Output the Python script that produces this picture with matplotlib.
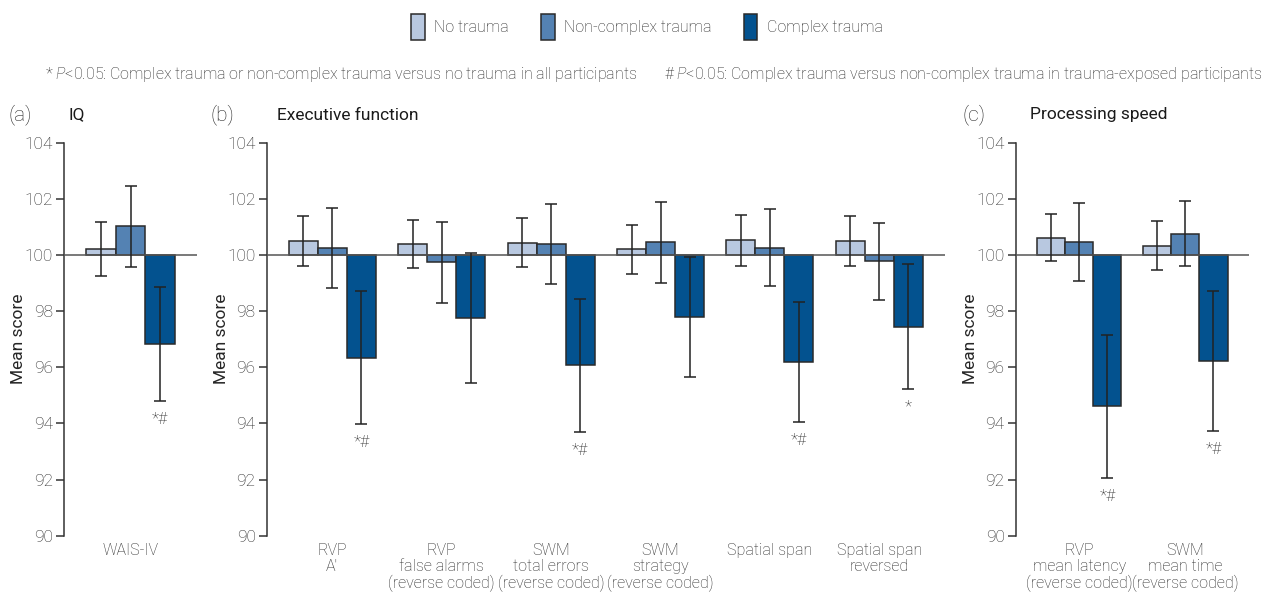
import matplotlib
matplotlib.use("Agg")
import matplotlib.pyplot as plt
from matplotlib.patches import Patch
import numpy as np

plt.rcParams['font.family'] = ['Roboto', 'DejaVu Sans']
plt.rcParams['font.weight'] = 'light'
plt.rcParams['mathtext.fontset'] = 'custom'
plt.rcParams['mathtext.it'] = 'Roboto:italic:light'
plt.rcParams['mathtext.rm'] = 'Roboto:light'

groups = ['No trauma', 'Non-complex trauma', 'Complex trauma']
colors = ['#b8c8e0', '#5482b3', '#03528f']

# panel (a) IQ
iq_labels = ['WAIS-IV']
iq_means = [[100.20], [101.02], [96.82]]
iq_err = [[0.96], [1.45], [2.03]]
iq_sig = ['*#']

# panel (b) executive function
ef_labels = ['RVP\nA\u2032', 'RVP\nfalse alarms\n(reverse coded)',
             'SWM\ntotal errors\n(reverse coded)', 'SWM\nstrategy\n(reverse coded)',
             'Spatial span', 'Spatial span\nreversed']
ef_means = [[100.50, 100.39, 100.44, 100.20, 100.53, 100.49],
            [100.24, 99.74, 100.40, 100.45, 100.26, 99.77],
            [96.34, 97.76, 96.07, 97.80, 96.19, 97.45]]
ef_err = [[0.88, 0.84, 0.88, 0.88, 0.91, 0.90],
          [1.42, 1.45, 1.42, 1.45, 1.37, 1.36],
          [2.37, 2.31, 2.37, 2.14, 2.14, 2.22]]
ef_sig = ['*#', '', '*#', '', '*#', '*']

# panel (c) processing speed
ps_labels = ['RVP\nmean latency\n(reverse coded)', 'SWM\nmean time\n(reverse coded)']
ps_means = [[100.61, 100.33], [100.45, 100.76], [94.61, 96.22]]
ps_err = [[0.84, 0.88], [1.39, 1.16], [2.55, 2.49]]
ps_sig = ['*#', '*#']

W, H = 1267, 596
fig = plt.figure(figsize=(W / 100, H / 100), dpi=100)
txt = '#262626'

def make_panel(left, right, letter, title, labels, means, errs, sigs, letter_x, title_x):
    ax = fig.add_axes([left / W, (H - 535.7) / H, (right - left) / W, 393 / H])
    n = len(labels)
    x = np.arange(n)
    w = 0.265
    for i in range(3):
        m = np.array(means[i])
        ax.bar(x + (i - 1) * w, m - 100, bottom=100, width=w, color=colors[i],
               edgecolor='#2a2a2a', linewidth=1.1, zorder=2)
        ax.errorbar(x + (i - 1) * w, m, yerr=errs[i], fmt='none', ecolor='#222222',
                    elinewidth=1.1, capsize=4, capthick=1.1, zorder=4)
    lows = np.array(means[2]) - np.array(errs[2])
    for xi, lo, s in zip(x + w, lows, sigs):
        if s:
            ax.annotate(s, (xi, lo), xytext=(0, -8), textcoords='offset points',
                        ha='center', va='top', fontsize=12, color=txt)
    ax.axhline(100, color='#555555', lw=1.1, zorder=3)
    ax.set_xlim(-0.6, n - 0.4)
    ax.set_ylim(90, 104)
    ax.set_yticks(np.arange(90, 105, 2))
    ax.tick_params(axis='y', direction='out', length=6, width=1.1, color='#333333',
                   labelcolor=txt, labelsize=12.5, pad=2)
    ax.set_xticks(x)
    ax.set_xticklabels(labels, fontsize=11.5, color=txt, linespacing=1.1)
    ax.tick_params(axis='x', length=0, pad=5)
    for s in ['top', 'right', 'bottom']:
        ax.spines[s].set_visible(False)
    ax.spines['left'].set_color('#333333')
    ax.spines['left'].set_linewidth(1.1)
    ax.set_ylabel('Mean score', fontsize=12.5, color=txt, labelpad=-1.5)
    fig.text(letter_x / W, 1 - 115 / H, letter, fontsize=15, va='center', color=txt)
    fig.text(title_x / W, 1 - 115 / H, title, fontsize=12.5, va='center', color='#1a1a1a',
             fontweight='normal')
    return ax

make_panel(64, 197, '(a)', 'IQ', iq_labels, iq_means, iq_err, iq_sig, 9, 68)
make_panel(266.7, 945, '(b)', 'Executive function', ef_labels, ef_means, ef_err, ef_sig, 210, 277)
make_panel(1015.7, 1249, '(c)', 'Processing speed', ps_labels, ps_means, ps_err, ps_sig, 962, 1030)

handles = [Patch(facecolor=c, edgecolor='#2a2a2a', linewidth=1.1) for c in colors]
fig.legend(handles, groups, loc='center', bbox_to_anchor=(647 / W, 1 - 27 / H), ncol=3,
           frameon=False, fontsize=11.5, handlelength=0.85, handleheight=2.2,
           handletextpad=0.6, columnspacing=2.0, labelcolor=txt)

fig.text(45 / W, 1 - 74 / H,
         '* $P$<0.05: Complex trauma or non-complex trauma versus no trauma in all participants',
         fontsize=11.5, va='center', color=txt)
fig.text(664 / W, 1 - 74 / H,
         '# $P$<0.05: Complex trauma versus non-complex trauma in trauma-exposed participants',
         fontsize=11.5, va='center', color=txt)

fig.savefig('out.png', dpi=100)
